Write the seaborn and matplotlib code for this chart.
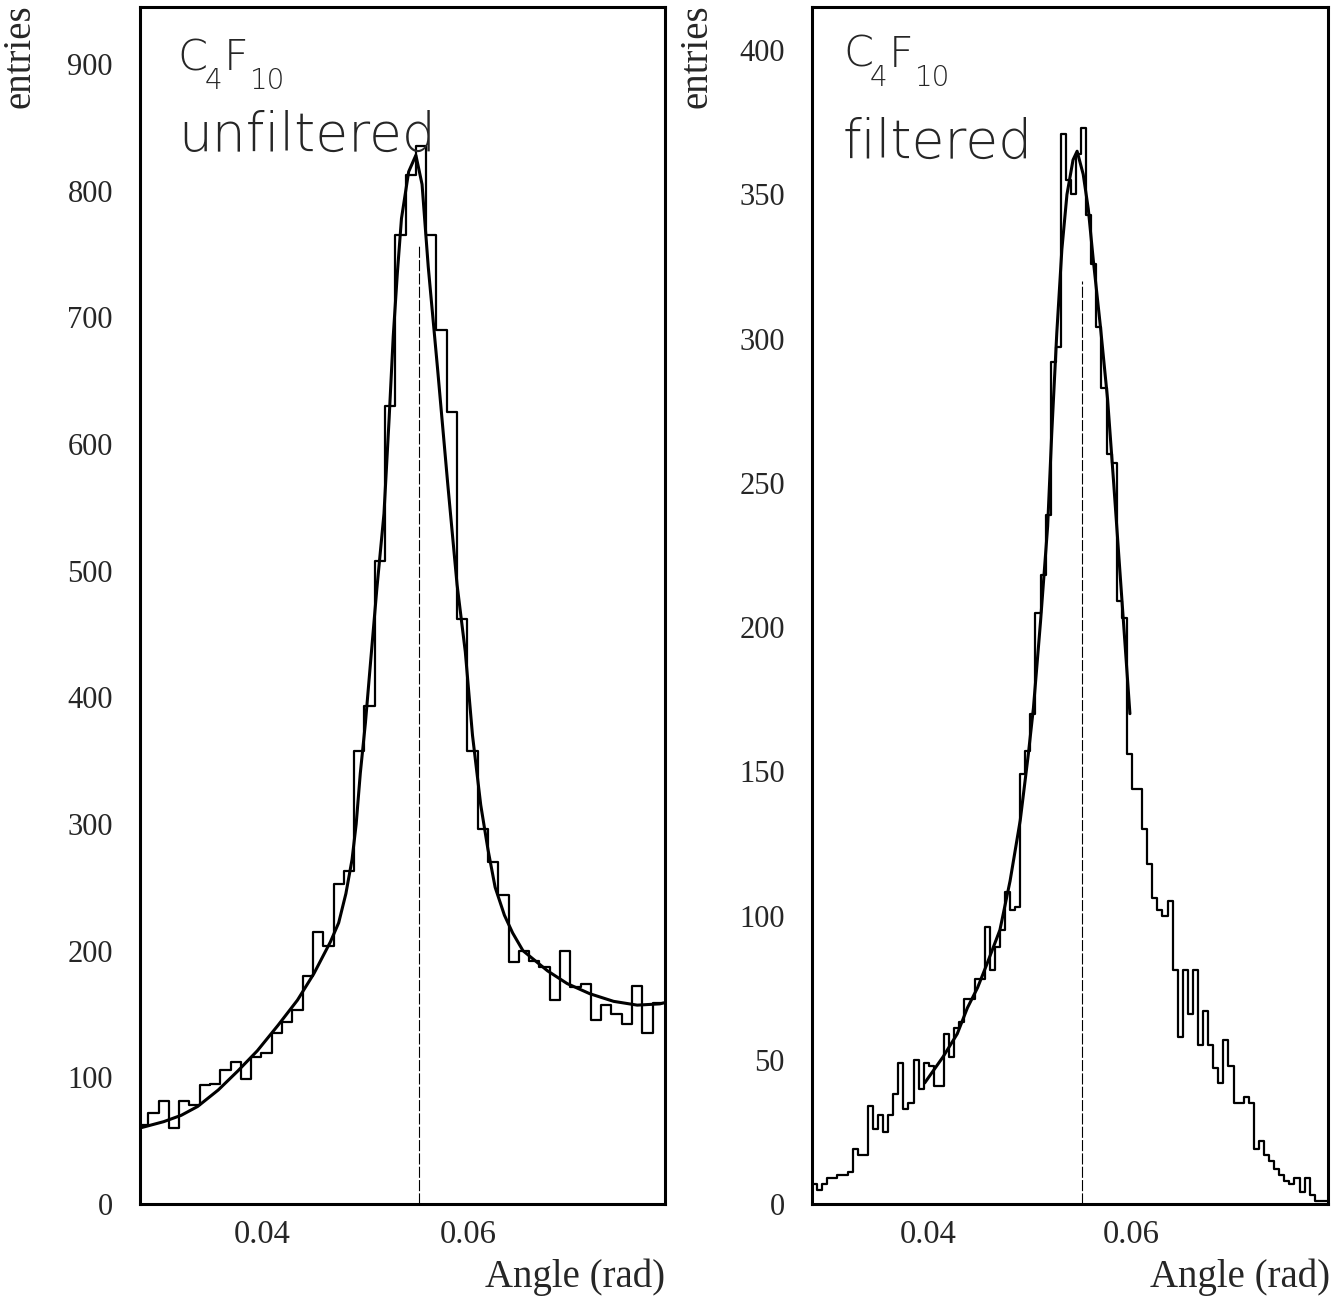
import numpy as np
import pandas as pd
import matplotlib
matplotlib.use("Agg")
import matplotlib.pyplot as plt
from matplotlib.transforms import offset_copy
import seaborn as sns

# ---- data ----
# left panel: C4F10 unfiltered, 0.001 rad bins
unf_start = 0.0279
unf_width = 0.001
unf_counts = [62, 72, 81, 60, 81, 78, 94, 95, 106, 112,
              99, 116, 119, 135, 144, 153, 180, 215, 204, 253,
              263, 358, 393, 508, 630, 765, 812, 835, 765, 690,
              625, 462, 358, 296, 270, 244, 191, 200, 192, 187,
              161, 200, 171, 174, 145, 157, 150, 142, 172, 135,
              159]
unf_fit_x = [0.0281, 0.0304, 0.0321, 0.0337, 0.0357, 0.0376, 0.0395, 0.0415,
             0.0434, 0.0450, 0.0466, 0.0474, 0.0481, 0.0487, 0.0491, 0.0495,
             0.0500, 0.0505, 0.0511, 0.0518, 0.0523, 0.0527, 0.0531, 0.0535,
             0.0542, 0.0549, 0.0555, 0.0561, 0.0570, 0.0580, 0.0589, 0.0597,
             0.0604, 0.0612, 0.0619, 0.0626, 0.0635, 0.0643, 0.0653, 0.0677,
             0.0696, 0.0718, 0.0741, 0.0764, 0.0786, 0.0791]
unf_fit_y = [60, 65, 70, 77, 90, 105, 121, 141,
             161, 182, 207, 222, 245, 272, 300, 340,
             380, 428, 485, 545, 620, 685, 735, 778,
             815, 828, 805, 740, 660, 568, 489, 436,
             370, 315, 280, 250, 228, 214, 200, 184,
             174, 166, 160, 157, 158, 159]
unf_line_top = 758

# right panel: C4F10 filtered, 0.0005 rad bins
filt_start = 0.0286
filt_width = 0.0005
filt_counts = [7, 5, 7, 9, 9, 10, 10, 11, 19, 17,
               17, 34, 26, 31, 25, 31, 38, 49, 33, 35,
               50, 40, 49, 48, 41, 41, 59, 51, 61, 63,
               71, 71, 78, 78, 96, 81, 89, 95, 108, 102,
               103, 149, 157, 170, 205, 218, 239, 292, 297, 371,
               355, 350, 364, 373, 343, 326, 304, 283, 260, 257,
               209, 203, 156, 144, 144, 130, 118, 106, 102, 100,
               105, 81, 58, 81, 66, 81, 55, 67, 55, 47,
               42, 57, 48, 35, 35, 37, 35, 19, 22, 17,
               15, 12, 10, 8, 7, 9, 4, 9, 3, 1,
               1, 1]
filt_fit_x = [0.0397, 0.0415, 0.0429, 0.0439, 0.0449, 0.0458, 0.0471, 0.0481,
              0.0491, 0.0499, 0.0504, 0.0511, 0.0518, 0.0522, 0.0527, 0.0532,
              0.0537, 0.0543, 0.0547, 0.0553, 0.0558, 0.0563, 0.0570, 0.0577,
              0.0583, 0.0588, 0.0594, 0.0599]
filt_fit_y = [42, 51, 59, 68, 75, 83, 95, 112,
              133, 156, 172, 202, 235, 267, 302, 331,
              350, 362, 365, 357, 345, 327, 304, 279,
              250, 225, 195, 170]
filt_line_top = 320

peak_angle = 0.0552

# ---- style ----
sns.set_theme(style="white")
plt.rcParams["font.family"] = ["Liberation Serif", "DejaVu Serif"]

W, H = 1340, 1296
fig = plt.figure(figsize=(W / 100, H / 100), dpi=100)
ax_l = fig.add_axes([140 / W, 92 / H, 525 / W, 1197 / H])
ax_r = fig.add_axes([812 / W, 92 / H, 516 / W, 1197 / H])

label_font = ["DejaVu Sans"]
PX = 0.72  # points per pixel at dpi 100


def draw_panel(ax, start, width, counts, fit_x, fit_y, line_top):
    edges = start + width * np.arange(len(counts) + 1)
    hist_df = pd.DataFrame({"angle": edges[:-1] + width / 2, "entries": counts})
    fit_df = pd.DataFrame({"angle": fit_x, "entries": fit_y})
    # bins as a plain list: seaborn compares bins to "auto" when weights are used
    sns.histplot(data=hist_df, x="angle", weights="entries", bins=edges.tolist(),
                 element="step", fill=False, color="black", linewidth=1.6, ax=ax)
    sns.lineplot(data=fit_df, x="angle", y="entries", color="black", linewidth=2.2,
                 sort=False, estimator=None, ax=ax)
    ax.plot([peak_angle, peak_angle], [0, line_top], color="black",
            linewidth=0.8, linestyle=(0, (10, 2)))
    ax.set_xlabel("")
    ax.set_ylabel("")
    for sp in ax.spines.values():
        sp.set_linewidth(2.2)
        sp.set_color("black")
    ax.set_xticks([0.04, 0.06])
    ax.set_xticklabels(["0.04", "0.06"])
    ax.set_xticks([0.032, 0.036, 0.044, 0.048, 0.052, 0.056,
                   0.064, 0.068, 0.072, 0.076], minor=True)
    ax.tick_params(axis="x", which="major", direction="in", length=13,
                   width=1.2, labelsize=23.5, pad=11, color="black")
    ax.tick_params(axis="x", which="minor", direction="in", length=6,
                   width=1.2, color="black")
    ax.tick_params(axis="y", which="major", direction="in", length=14,
                   width=1.4, labelsize=22, pad=19.5, color="black")
    ax.tick_params(axis="y", which="minor", direction="in", length=7,
                   width=1.4, color="black")
    ax.grid(False)


def formula_label(ax, x, y):
    # C4F10 with deep subscripts, placed piece by piece (offsets in pixels)
    pieces = [("C", 0, 0, 31), ("4", 27, -19, 20), ("F", 46, 0, 31), ("10", 72, -19, 20)]
    for txt, dx, dy, size in pieces:
        tr = offset_copy(ax.transAxes, fig=fig, x=dx * PX, y=dy * PX, units="points")
        ax.text(x, y, txt, transform=tr, fontsize=size, family=label_font,
                fontweight="light", va="baseline", ha="left")


draw_panel(ax_l, unf_start, unf_width, unf_counts, unf_fit_x, unf_fit_y, unf_line_top)
ax_l.set_xlim(0.0281, 0.0791)
ax_l.set_ylim(0, 945)
ax_l.set_yticks(np.arange(0, 901, 100))
ax_l.set_yticks(np.arange(0, 941, 20), minor=True)

draw_panel(ax_r, filt_start, filt_width, filt_counts, filt_fit_x, filt_fit_y, filt_line_top)
ax_r.set_xlim(0.0286, 0.0794)
ax_r.set_ylim(0, 415)
ax_r.set_yticks(np.arange(0, 401, 50))
ax_r.set_yticks(np.arange(0, 411, 10), minor=True)

# in-plot labels
formula_label(ax_l, 0.072, 0.947)
ax_l.text(0.072, 0.8795, "unfiltered", transform=ax_l.transAxes,
          fontsize=38.5, family=label_font, fontweight="light", va="baseline")
formula_label(ax_r, 0.060, 0.950)
ax_r.text(0.060, 0.8739, "filtered", transform=ax_r.transAxes,
          fontsize=38.5, family=label_font, fontweight="light", va="baseline")

# axis titles
fig.text(20 / W, 1 - 4 / H, "entries", rotation=90, ha="center", va="top", fontsize=28)
fig.text(697 / W, 1 - 4 / H, "entries", rotation=90, ha="center", va="top", fontsize=28)
fig.text(665 / W, 1 - 1287 / H, "Angle (rad)", ha="right", va="baseline", fontsize=28)
fig.text(1330 / W, 1 - 1287 / H, "Angle (rad)", ha="right", va="baseline", fontsize=28)

fig.savefig("out.png", dpi=100, facecolor="white")
